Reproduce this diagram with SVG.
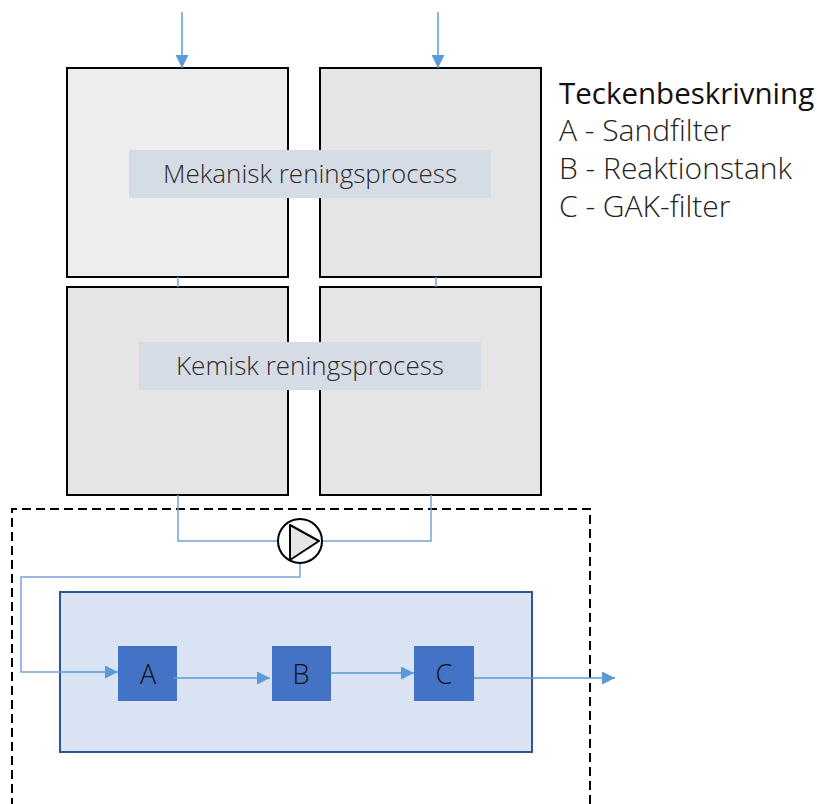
<svg xmlns="http://www.w3.org/2000/svg" width="817" height="804" viewBox="0 0 817 804">
  <defs>
    <marker id="arrow" viewBox="0 0 13 13" refX="13" refY="6.5" markerWidth="13" markerHeight="13" markerUnits="userSpaceOnUse" orient="auto">
      <path d="M0,0 L13,6.5 L0,13 Z" fill="#5b9bd5"/>
    </marker>
  </defs>
  <style>
    .tank { stroke: #000; stroke-width: 2; }
    .label-bg { fill: #d6dce5; }
    .label { font-family: "Open Sans", "Noto Sans", sans-serif; font-weight: 300; font-size: 26px; fill: #2b2b2b; text-anchor: middle; }
    .legend { font-family: "Open Sans", "Noto Sans", sans-serif; font-weight: 300; font-size: 30px; fill: #222; }
    .legend-title { font-family: "Open Sans", "Noto Sans", sans-serif; font-size: 29.5px; fill: #111; }
    .pipe { fill: none; stroke: #7aa1dc; stroke-width: 1.5; }
    .flow { fill: none; stroke: #5b9bd5; stroke-width: 1.5; }
    .unit { fill: #4472c4; }
    .unit-text { font-family: "Open Sans", "Noto Sans", sans-serif; font-weight: 300; font-size: 27px; fill: #111; text-anchor: middle; }
  </style>

  <!-- process tanks -->
  <g id="tank-mek-left"><rect class="tank" x="67" y="68" width="221" height="209" fill="#ededed"/></g>
  <g id="tank-mek-right"><rect class="tank" x="320" y="68" width="221" height="209" fill="#e5e5e5"/></g>
  <g id="tank-kem-left"><rect class="tank" x="67" y="287" width="221" height="208" fill="#e5e5e5"/></g>
  <g id="tank-kem-right"><rect class="tank" x="320" y="287" width="221" height="208" fill="#e5e5e5"/></g>

  <!-- process labels -->
  <g id="label-mek">
    <rect class="label-bg" x="129" y="150" width="362" height="48"/>
    <text class="label" x="310" y="183">Mekanisk reningsprocess</text>
  </g>
  <g id="label-kem">
    <rect class="label-bg" x="139" y="342" width="342" height="48"/>
    <text class="label" x="310" y="375">Kemisk reningsprocess</text>
  </g>

  <!-- legend -->
  <g id="legend">
    <text class="legend-title" x="559" y="104">Teckenbeskrivning</text>
    <text class="legend" x="559" y="141">A - Sandfilter</text>
    <text class="legend" x="559" y="179">B - Reaktionstank</text>
    <text class="legend" x="559" y="217">C - GAK-filter</text>
  </g>

  <!-- treatment enclosure -->
  <g id="enclosure">
    <path d="M590,804 L590,509 L12,509 L12,804" fill="none" stroke="#000" stroke-width="2" stroke-dasharray="9,5"/>
  </g>

  <!-- filter unit -->
  <g id="filter-unit">
    <rect x="60" y="592" width="472" height="160" fill="#dae3f3" stroke="#2f5597" stroke-width="2"/>
  </g>
  <g id="unit-a">
    <rect class="unit" x="118" y="646" width="59" height="55"/>
    <text class="unit-text" x="148" y="684">A</text>
  </g>
  <g id="unit-b">
    <rect class="unit" x="272" y="646" width="59" height="55"/>
    <text class="unit-text" x="301" y="684">B</text>
  </g>
  <g id="unit-c">
    <rect class="unit" x="414" y="646" width="60" height="55"/>
    <text class="unit-text" x="444" y="684">C</text>
  </g>

  <!-- connectors -->
  <g id="connectors">
    <line class="flow" x1="182" y1="12" x2="182" y2="68" marker-end="url(#arrow)"/>
    <line class="flow" x1="438" y1="12" x2="438" y2="68" marker-end="url(#arrow)"/>
    <line class="pipe" x1="178" y1="277" x2="178" y2="287"/>
    <line class="pipe" x1="436" y1="277" x2="436" y2="287"/>
    <path class="pipe" d="M178,495 L178,541 L278,541"/>
    <path class="pipe" d="M431,495 L431,541 L322,541"/>
    <path class="pipe" d="M300,563 L300,577 L21,577 L21,672 L60,672"/>
    <line class="flow" x1="60" y1="672" x2="118" y2="672" marker-end="url(#arrow)"/>
    <line class="flow" x1="173" y1="678" x2="270" y2="678" marker-end="url(#arrow)"/>
    <line class="flow" x1="331" y1="673" x2="414" y2="673" marker-end="url(#arrow)"/>
    <line class="flow" x1="474" y1="678" x2="615" y2="678" marker-end="url(#arrow)"/>
  </g>

  <!-- pump -->
  <g id="pump">
    <circle cx="300" cy="541" r="22" fill="#fff" stroke="#000" stroke-width="2"/>
    <path d="M290,525 L319,541 L290,560 Z" fill="#e5e5e5" stroke="#000" stroke-width="2" stroke-linejoin="round"/>
  </g>
</svg>
